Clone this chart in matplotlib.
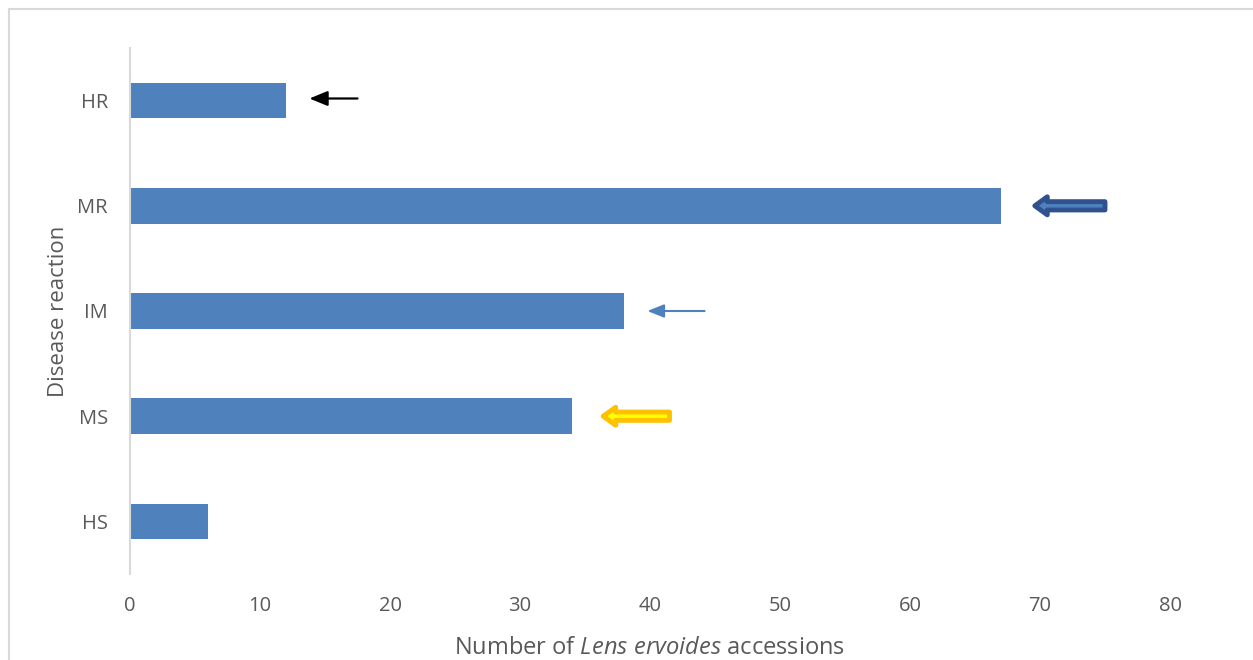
import numpy as np
import matplotlib.pyplot as plt

reactions = ['HR', 'MR', 'IM', 'MS', 'HS']
counts = [12, 67, 38, 34, 6]

# arrows pointing at the bars (x of tip, x of tail, in data units)
arrow_rows = ['HR', 'MR', 'IM', 'MS']
arrow_tip = [13.8, 69.6, 39.8, 36.4]
arrow_tail = [17.5, 75.0, 44.2, 41.5]

plt.rcParams['font.family'] = ['Open Sans', 'DejaVu Sans']
plt.rcParams['mathtext.fontset'] = 'custom'
plt.rcParams['mathtext.it'] = 'Open Sans:italic'
plt.rcParams['mathtext.rm'] = 'Open Sans'

fig = plt.figure(figsize=(12.53, 6.6), dpi=100)
ax = fig.add_axes([130/1253, 1-574/660, 1040/1253, 526/660])

y = np.arange(len(reactions))
ax.barh(y, counts, height=0.34, color='#4F81BD')
ax.set_yticks(y, reactions)
ax.set_ylim(len(reactions)-0.5, -0.5)
ax.set_xlim(0, 80)
ax.set_xticks(np.arange(0, 81, 10))

for s in ['top', 'right', 'bottom']:
    ax.spines[s].set_visible(False)
ax.spines['left'].set_color('#D9D9D9')
ax.spines['left'].set_linewidth(1.5)
ax.tick_params(length=0, labelsize=14.5, colors='#595959')
ax.tick_params(axis='y', pad=16)
ax.tick_params(axis='x', pad=16)

ax.set_xlabel('Number of $\\it{Lens\\ ervoides}$ accessions', fontsize=17, color='#595959', labelpad=14)
ax.set_ylabel('Disease reaction', fontsize=16, color='#595959', labelpad=6)

styles = {
    'HR': dict(arrowstyle='-|>,head_length=1.1,head_width=0.45', color='black', lw=1.6),
    'MR': dict(arrowstyle='simple,head_length=0.9,head_width=1.3,tail_width=0.6',
               fc='#4F81BD', ec='#2F528F', lw=3.5),
    'IM': dict(arrowstyle='-|>,head_length=1.0,head_width=0.4', color='#4F81BD', lw=1.5),
    'MS': dict(arrowstyle='simple,head_length=0.9,head_width=1.3,tail_width=0.6',
               fc='#FFFF00', ec='#FFC000', lw=3.5),
}
for r, t0, t1 in zip(arrow_rows, arrow_tip, arrow_tail):
    yy = reactions.index(r)
    if r == 'HR':
        yy = yy - 0.02
    ax.annotate('', xy=(t0, yy), xytext=(t1, yy), arrowprops=dict(shrinkA=0, shrinkB=0, **styles[r]))

# outer chart border
border = plt.Rectangle((9/1253, -0.1), 1.2, 1-9/660+0.1, transform=fig.transFigure,
                       fill=False, ec='#D9D9D9', lw=1.5)
fig.patches.append(border)

fig.savefig('out.png', dpi=100)
